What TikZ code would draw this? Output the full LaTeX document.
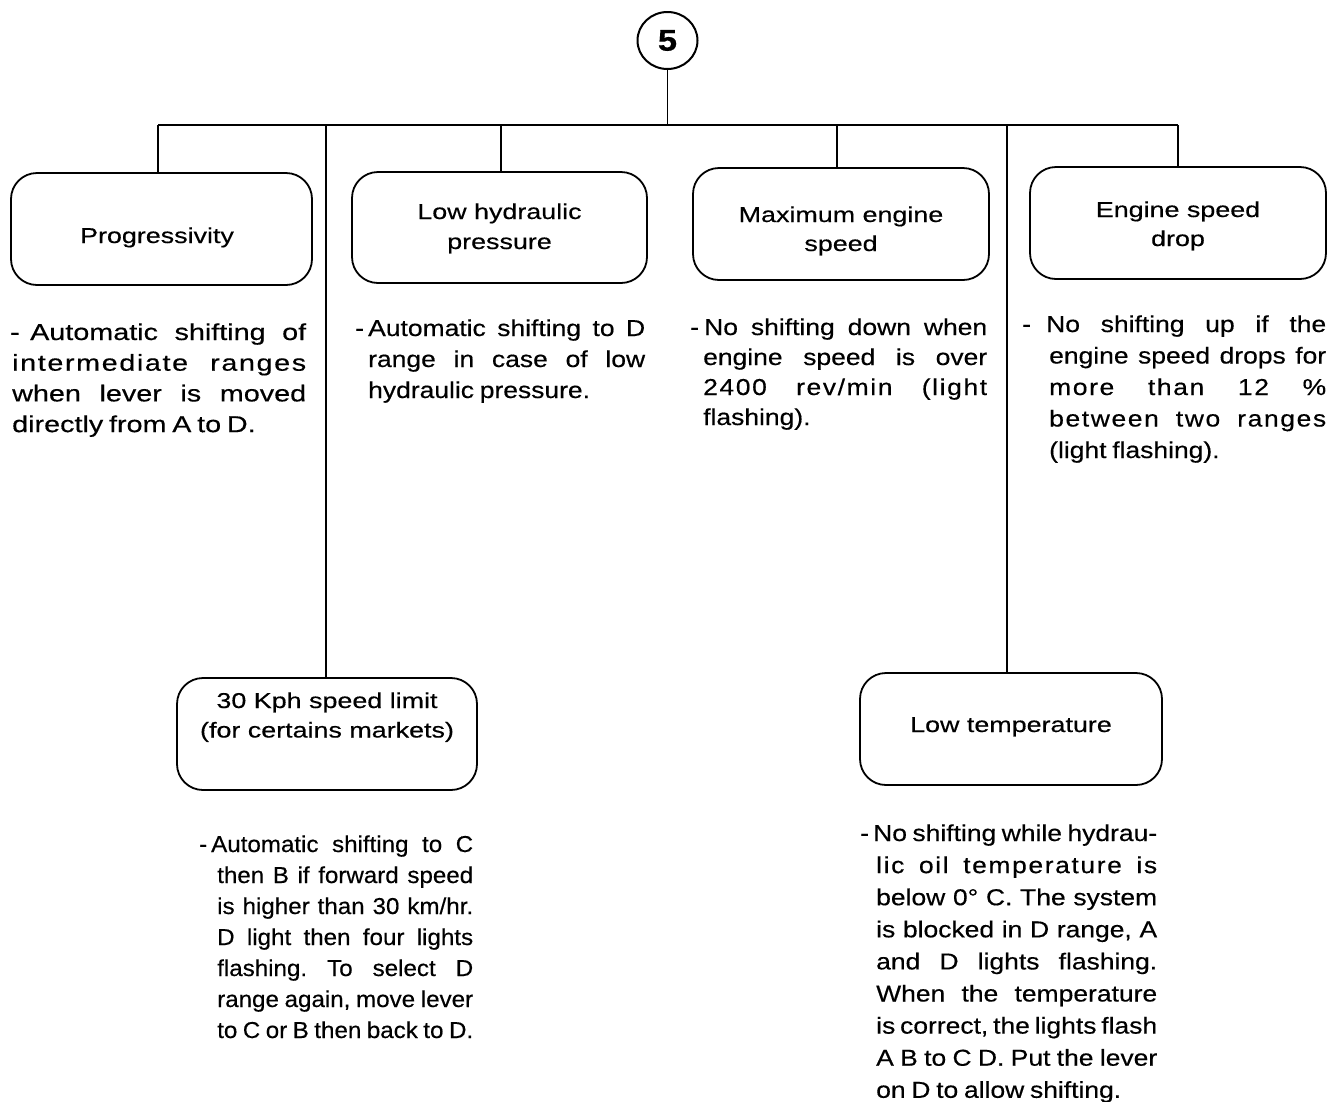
\documentclass[tikz,border=0pt]{standalone}
\usepackage{fontspec}
\setmainfont{Liberation Sans}[FakeStretch=1.15, FakeBold=0.4]
\newfontfamily\boxF{Liberation Sans}[FakeStretch=1.25, FakeBold=0.4]
\newfontfamily\wideF{Liberation Sans}[FakeStretch=1.25, FakeBold=0.4]
\newfontfamily\narrowF{Liberation Sans}[FakeStretch=1.05, FakeBold=0.4]
\newfontfamily\spacedF{Liberation Sans}[FakeStretch=1.15, FakeBold=0.4, LetterSpace=7]
\newfontfamily\spacedwideF{Liberation Sans}[FakeStretch=1.25, FakeBold=0.4, LetterSpace=7]
\usetikzlibrary{shapes.geometric}
\frenchspacing
% justified line: indent, width, text
\newcommand{\JL}[3]{\hbox{\hskip#1pt\hbox to #2pt{\spaceskip=.25em plus 1fill minus .13em\relax #3}}}
% first (dash) line: dash box width, width, text
\newcommand{\DL}[3]{\hbox{\hbox to #1pt{-\hfil}\hbox to #2pt{\spaceskip=.25em plus 1fill minus .13em\relax #3}}}
% natural (last) line
\newcommand{\NL}[2]{\hbox{\hskip#1pt\spaceskip=.25em\relax #2}}
% centred line
\newcommand{\CL}[1]{\hbox to 0pt{\hss #1\hss}}
\begin{document}
\begin{tikzpicture}[x=1pt,y=-1pt,
  box/.style={draw, line width=1.8pt, rounded corners=26pt, inner sep=0pt},
  conn/.style={line width=1.6pt},
  lab/.style={anchor=base, inner sep=0pt, font=\boxF\fontsize{21.5}{21.5}\selectfont},
  desc/.style={anchor=base west, inner sep=0pt},
  dmain/.style={font=\fontsize{23}{23}\selectfont},
  dwide/.style={font=\wideF\fontsize{23}{23}\selectfont},
  dnarrow/.style={font=\narrowF\fontsize{23}{23}\selectfont}]
\path[use as bounding box, fill=white] (0,0) rectangle (1330,1101);

% top circle
\node[draw, ellipse, line width=2pt, minimum width=60pt, minimum height=57pt, inner sep=0pt,
      font=\bfseries\fontsize{30}{30}\selectfont] (c5) at (667.5,40.5) {5};

% boxes
\node[box, minimum width=301pt, minimum height=112pt] (b1) at (161.5,229) {};
\node[box, minimum width=295pt, minimum height=111pt] (b2) at (499.5,227.5) {};
\node[box, minimum width=296pt, minimum height=112pt] (b3) at (841,224) {};
\node[box, minimum width=296pt, minimum height=112pt] (b4) at (1178,223) {};
\node[box, minimum width=300pt, minimum height=112pt] (b5) at (327,734) {};
\node[box, minimum width=302pt, minimum height=112pt] (b6) at (1011,729) {};

% bus and junctions
\coordinate (jc) at (667.5,125);
\coordinate (j1) at (158,125);
\coordinate (j2) at (326,125);
\coordinate (j3) at (501,125);
\coordinate (j4) at (837,125);
\coordinate (j5) at (1007,125);
\coordinate (j6) at (1178,125);
\draw[conn] (c5.south) -- (jc);
\draw[conn] (j1) -- (j6);
\draw[conn] (j1) -- (j1 |- b1.north);
\draw[conn] (j2) -- (j2 |- b5.north);
\draw[conn] (j3) -- (j3 |- b2.north);
\draw[conn] (j4) -- (j4 |- b3.north);
\draw[conn] (j5) -- (j5 |- b6.north);
\draw[conn] (j6) -- (j6 |- b4.north);

% box labels
\node[lab] (t1) at (157,243) {\vtop{\CL{Progressivity}}};
\node[lab] (t2) at (499.5,219) {\vtop{\baselineskip=30pt\CL{Low hydraulic}\CL{pressure}}};
\node[lab] (t3) at (841,222) {\vtop{\baselineskip=29pt\CL{Maximum engine}\CL{speed}}};
\node[lab] (t4) at (1178,217) {\vtop{\baselineskip=29pt\CL{Engine speed}\CL{drop}}};
\node[lab] (t5) at (327,708) {\vtop{\baselineskip=29.5pt\CL{30 Kph speed limit}\CL{(for certains markets)}}};
\node[lab] (t6) at (1011,732) {\vtop{\CL{Low temperature}}};

% descriptions
\node[desc, dwide] (d1) at (10,340) {\vtop{\baselineskip=30.7pt
  \DL{20}{276}{Automatic shifting of}
  \JL{2}{294}{\spacedwideF intermediate ranges}
  \JL{2}{294}{when lever is moved}
  \NL{2}{directly from A to D.}}};

\node[desc, dmain] (d2) at (355,336) {\vtop{\baselineskip=31pt
  \DL{13}{277}{Automatic shifting to D}
  \JL{13}{277}{range in case of low}
  \NL{13}{hydraulic pressure.}}};

\node[desc, dmain] (d3) at (690,335) {\vtop{\baselineskip=30pt
  \DL{14}{283}{No shifting down when}
  \JL{13}{284}{engine speed is over}
  \JL{13}{284}{\spacedF 2400 rev/min (light}
  \NL{13}{flashing).}}};

\node[desc, dmain] (d4) at (1022,332) {\vtop{\baselineskip=31.5pt
  \DL{24}{280}{No shifting up if the}
  \JL{27}{277}{engine speed drops for}
  \JL{27}{277}{\spacedF more than 12 \%}
  \JL{27}{277}{\spacedF between two ranges}
  \NL{27}{(light flashing).}}};

\node[desc, dnarrow] (d5) at (199,852) {\vtop{\baselineskip=31pt
  \DL{12}{262}{Automatic shifting to C}
  \JL{18}{256}{then B if forward speed}
  \JL{18}{256}{is higher than 30 km/hr.}
  \JL{18}{256}{D light then four lights}
  \JL{18}{256}{flashing. To select D}
  \JL{18}{256}{range again, move lever}
  \JL{18}{256}{to C or B then back to D.}}};

\node[desc, dmain] (d6) at (860,841) {\vtop{\baselineskip=32.1pt
  \DL{13}{284}{No shifting while hydrau-}
  \JL{16}{281}{\spacedF lic oil temperature is}
  \JL{16}{281}{below 0° C. The system}
  \JL{16}{281}{is blocked in D range, A}
  \JL{16}{281}{and D lights flashing.}
  \JL{16}{281}{When the temperature}
  \JL{16}{281}{is correct, the lights flash}
  \JL{16}{281}{A B to C D. Put the lever}
  \NL{16}{on D to allow shifting.}}};
\end{tikzpicture}
\end{document}
